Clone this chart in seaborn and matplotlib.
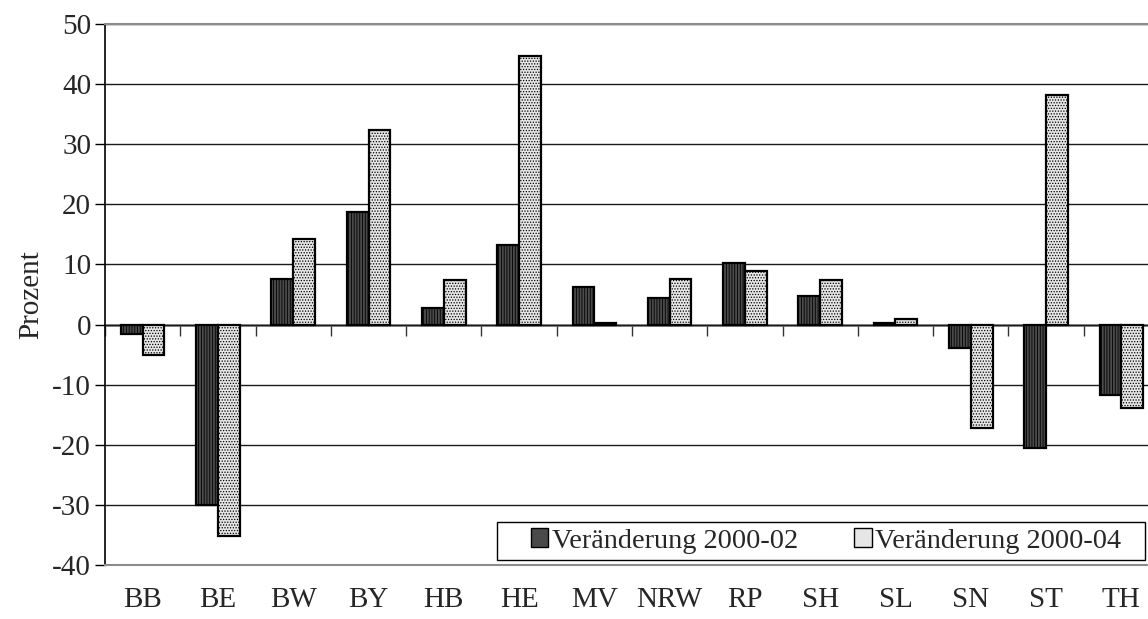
import matplotlib
matplotlib.use("Agg")
import matplotlib.pyplot as plt
from matplotlib.patches import Rectangle
import seaborn as sns
import pandas as pd
import numpy as np

# Bundesländer und prozentuale Veränderungen
laender = ["BB", "BE", "BW", "BY", "HB", "HE", "MV", "NRW", "RP", "SH", "SL", "SN", "ST", "TH"]
veraenderung_2000_02 = [-1.6, -30.0, 7.5, 18.8, 2.8, 13.3, 6.3, 4.4, 10.3, 4.8, 0.3, -3.9, -20.6, -11.8]
veraenderung_2000_04 = [-5.1, -35.1, 14.2, 32.3, 7.4, 44.7, 0.3, 7.6, 8.9, 7.4, 0.9, -17.2, 38.2, -13.9]
serien = ["Veränderung 2000-02", "Veränderung 2000-04"]
y_ticks = list(range(-40, 51, 10))

df = pd.DataFrame({
    "Land": laender * 2,
    "Wert": veraenderung_2000_02 + veraenderung_2000_04,
    "Serie": [serien[0]] * len(laender) + [serien[1]] * len(laender),
})

sns.set_theme(style="white")
plt.rcParams["font.family"] = ["Liberation Serif", "DejaVu Serif"]
plt.rcParams["hatch.linewidth"] = 0.6
plt.rcParams["axes.unicode_minus"] = False

FS = 21
FS_LEG = 20.3
W, H = 1148, 619

fig = plt.figure(figsize=(W / 100, H / 100), dpi=100)
ax = fig.add_axes([105 / W, 54 / H, 1054 / W, 541 / H])

sns.barplot(data=df, x="Land", y="Wert", hue="Serie", order=laender, hue_order=serien,
            palette=["#4a4a4a", "#e6e6e6"], width=0.58, gap=0,
            edgecolor="black", linewidth=1.6, saturation=1, ax=ax, zorder=3)

hatches = ["||||||", "......"]
for cont, h in zip(ax.containers, hatches):
    for bar in cont:
        bar.set_hatch(h)

ax.set_ylim(-40, 50)
ax.set_xlim(-0.5, len(laender) - 0.5)
ax.set_yticks(y_ticks)
ax.yaxis.grid(True, color="#1a1a1a", linewidth=1.0, zorder=0)
ax.xaxis.grid(False)
ax.set_axisbelow(True)

ax.tick_params(axis="y", direction="out", length=7, width=1, color="black",
               labelsize=FS, pad=3, left=True)
ax.tick_params(axis="x", length=0, labelsize=FS, pad=16)
ax.set_xlabel("")
ax.set_ylabel("Prozent", fontsize=FS, labelpad=6)

for side in ["top", "bottom"]:
    ax.spines[side].set_color("#8c8c8c")
    ax.spines[side].set_linewidth(1.5)
ax.spines["left"].set_color("black")
ax.spines["left"].set_linewidth(1.2)
ax.spines["right"].set_visible(False)

# Nulllinie mit Kategorie-Trennstrichen
null_pos = (0 - (-40)) / 90
sec = ax.secondary_xaxis(null_pos)
sec.set_xticks(np.arange(-0.5, len(laender), 1.0))
sec.set_xticklabels([])
sec.xaxis.set_ticks_position("bottom")
sec.tick_params(axis="x", direction="out", length=8, width=1, color="#333333",
                labelbottom=False, labeltop=False, bottom=True, top=False)
sec.spines["bottom"].set_color("#7a7a7a")
sec.spines["bottom"].set_linewidth(1.8)
sec.spines["top"].set_visible(False)

# Legende mit eigenem Rahmen (breiterer Innenabstand links/rechts)
handles, labels = ax.get_legend_handles_labels()
if ax.legend_:
    ax.legend_.remove()
leg = fig.legend(handles, labels, loc="center", bbox_to_anchor=(826 / W, 1 - 541 / H),
                 bbox_transform=fig.transFigure, ncol=2, fontsize=FS_LEG, frameon=False,
                 handlelength=0.62, handleheight=0.62, handletextpad=0.12,
                 columnspacing=2.0, borderpad=0.0, borderaxespad=0)
leg.set_zorder(6)
for hnd in leg.legend_handles:
    hnd.set_linewidth(1.0)

frame = Rectangle((497 / W, 1 - 560 / H), (1145 - 497) / W, (560 - 522) / H,
                  transform=fig.transFigure, facecolor="white", edgecolor="black",
                  linewidth=1.0, zorder=5)
fig.add_artist(frame)

fig.savefig("out.png", dpi=100)
